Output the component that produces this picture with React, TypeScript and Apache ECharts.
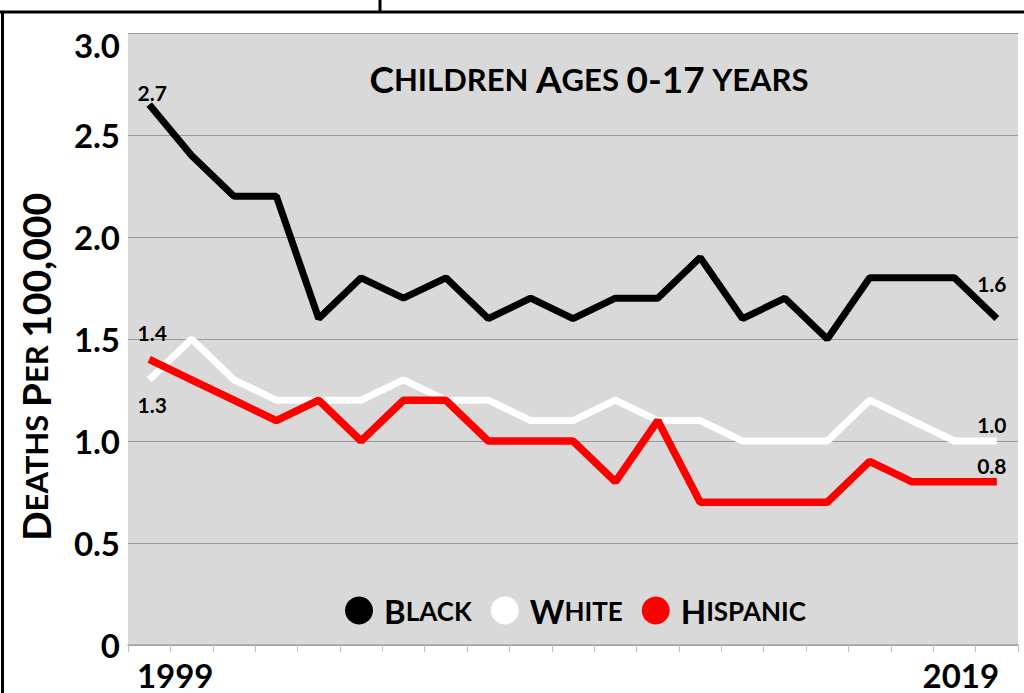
import React, { useEffect, useRef } from "react";
import * as echarts from "echarts";

const years = ["1999","2000","2001","2002","2003","2004","2005","2006","2007","2008","2009","2010","2011","2012","2013","2014","2015","2016","2017","2018","2019"];
const blackVals = [2.65,2.4,2.2,2.2,1.6,1.8,1.7,1.8,1.6,1.7,1.6,1.7,1.7,1.9,1.6,1.7,1.5,1.8,1.8,1.8,1.6];
const whiteVals = [1.3,1.5,1.3,1.2,1.2,1.2,1.3,1.2,1.2,1.1,1.1,1.2,1.1,1.1,1.0,1.0,1.0,1.2,1.1,1.0,1.0];
const hispanicVals = [1.4,1.3,1.2,1.1,1.2,1.0,1.2,1.2,1.0,1.0,1.0,0.8,1.1,0.7,0.7,0.7,0.7,0.9,0.8,0.8,0.8];
const seriesNames = ["Black", "White", "Hispanic"];
const yTicks = [0, 0.5, 1, 1.5, 2, 2.5, 3];

const FONT = "Lato";

function smallCaps(s: string, big: string, small: string) {
  return s
    .split(" ")
    .map((w) => {
      if (/^[0-9]/.test(w)) return `{${big}|${w}}`;
      if (w === w.toLowerCase()) return `{${small}|${w.toUpperCase()}}`;
      return `{${big}|${w[0]}}{${small}|${w.slice(1).toUpperCase()}}`;
    })
    .join(`{${small}| }`);
}

function buildData(vals: number[], first: [number, number], last: [number, number]) {
  return vals.map((v, i) => {
    if (i === 0 || i === vals.length - 1) {
      const off = i === 0 ? first : last;
      return {
        value: v,
        label: {
          show: true,
          position: "inside",
          offset: off,
          formatter: (p: any) => (Math.round(p.value * 10) / 10).toFixed(1),
          fontFamily: FONT,
          fontWeight: "bold",
          fontSize: 21,
          color: "#000",
        },
      };
    }
    return v;
  });
}

export default function App() {
  const ref = useRef<HTMLDivElement>(null);
  useEffect(() => {
    if (!ref.current) return;
    const chart = echarts.init(ref.current, undefined, { renderer: "svg" });
    const labelText = { fontFamily: FONT, fontWeight: "bold", color: "#000" };
    chart.setOption({
      animation: false,
      backgroundColor: "#fff",
      title: {
        text: smallCaps("Children Ages 0-17 years", "b", "s"),
        left: 584,
        top: 55,
        textAlign: "center",
        textStyle: {
          rich: {
            b: { ...labelText, fontSize: 37 },
            s: { ...labelText, fontSize: 31 },
          },
        },
      },
      legend: {
        data: seriesNames,
        icon: "circle",
        left: 340,
        top: 589,
        itemWidth: 28,
        itemHeight: 28,
        itemGap: 19,
        formatter: (n: string) => `{b|${n[0]}}{s|${n.slice(1).toUpperCase()}}`,
        textStyle: {
          padding: [0, 0, 0, 6],
          rich: {
            b: { ...labelText, fontSize: 33 },
            s: { ...labelText, fontSize: 26 },
          },
        },
      },
      grid: {
        left: 128,
        right: 6,
        top: 33,
        bottom: 48,
        show: true,
        backgroundColor: "#d9d9d9",
        borderWidth: 0,
      },
      xAxis: {
        type: "category",
        data: years,
        boundaryGap: true,
        axisLine: { lineStyle: { color: "#a6a6a6", width: 1.5 } },
        axisTick: { show: true, interval: 0, length: 7, lineStyle: { color: "#bfbfbf" } },
        axisLabel: {
          interval: 0,
          margin: 13,
          formatter: (v: string, i: number) =>
            i === 0 ? `{a|${v}}` : i === years.length - 1 ? `{z|${v}}` : "",
          rich: {
            a: { ...labelText, fontSize: 33, padding: [0, 0, 0, 52] },
            z: { ...labelText, fontSize: 33, padding: [0, 72, 0, 0] },
          },
        },
      },
      yAxis: {
        type: "value",
        min: yTicks[0],
        max: yTicks[yTicks.length - 1],
        interval: 0.5,
        axisLine: { show: false },
        axisTick: { show: false },
        splitLine: { lineStyle: { color: "#999999", width: 1 } },
        axisLabel: {
          margin: 8,
          formatter: (v: number) =>
            v === 3 ? "{t|3.0}" : `{n|${v === 0 ? "0" : v.toFixed(1)}}`,
          rich: {
            t: { ...labelText, fontSize: 33, padding: [24, 0, 0, 0] },
            n: { ...labelText, fontSize: 33 },
          },
        },
      },
      graphic: [
        { type: "line", shape: { x1: 0, y1: 12, x2: 1024, y2: 12 }, style: { stroke: "#000", lineWidth: 3 } },
        { type: "line", shape: { x1: 2.5, y1: 12, x2: 2.5, y2: 693 }, style: { stroke: "#000", lineWidth: 3 } },
        { type: "line", shape: { x1: 380, y1: 0, x2: 380, y2: 12 }, style: { stroke: "#000", lineWidth: 3 } },
        {
          type: "text",
          x: 36,
          y: 367,
          rotation: Math.PI / 2,
          style: {
            text: smallCaps("Deaths Per 100,000", "b", "s"),
            align: "center",
            verticalAlign: "middle",
            rich: {
              b: { ...labelText, fontSize: 39 },
              s: { ...labelText, fontSize: 31 },
            },
          },
        },
      ],
      series: [
        {
          name: seriesNames[0],
          type: "line",
          data: buildData(blackVals, [3, -12], [-5, -35]),
          color: "#000000",
          symbol: "circle",
          symbolSize: 0.1,
          showSymbol: true,
          lineStyle: { width: 7, color: "#000000" },
        },
        {
          name: seriesNames[1],
          type: "line",
          data: buildData(whiteVals, [3, 25], [-5, -17]),
          color: "#ffffff",
          symbol: "circle",
          symbolSize: 0.1,
          showSymbol: true,
          lineStyle: { width: 7, color: "#ffffff" },
        },
        {
          name: seriesNames[2],
          type: "line",
          data: buildData(hispanicVals, [3, -27], [-5, -16]),
          color: "#ff0000",
          symbol: "circle",
          symbolSize: 0.1,
          showSymbol: true,
          lineStyle: { width: 7.5, color: "#ff0000" },
        },
      ],
    });
    return () => chart.dispose();
  }, []);
  return (
    <div
      ref={ref}
      style={{ position: "fixed", left: 0, top: 0, width: 1024, height: 693 }}
    />
  );
}
